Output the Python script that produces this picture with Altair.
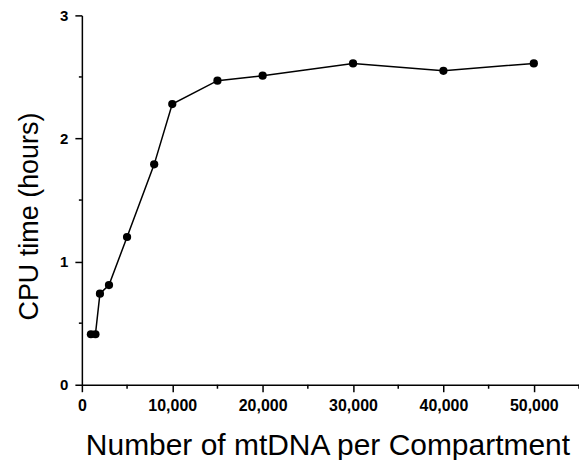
import altair as alt
import pandas as pd

mtdna = [1000, 1500, 2000, 3000, 5000, 8000, 10000, 15000, 20000, 30000, 40000, 50000]
cpu_hours = [0.41, 0.41, 0.74, 0.81, 1.20, 1.79, 2.28, 2.47, 2.51, 2.61, 2.55, 2.61]

x_major = [0, 10000, 20000, 30000, 40000, 50000]
x_minor = [5000, 15000, 25000, 35000, 45000, 55000]
y_major = [0, 1, 2, 3]
y_minor = [0.5, 1.5, 2.5]

df = pd.DataFrame({"n": mtdna, "t": cpu_hours})
dfx = pd.DataFrame({"n": x_minor})
dfy = pd.DataFrame({"t": y_minor})

FONT = "Liberation Sans"

x_axis = alt.Axis(
    values=x_major,
    labelExpr="format(datum.value, ',')",
    tickSize=7,
    labelPadding=6,
    labelFontSize=16,
    labelFontWeight="bold",
    labelFont=FONT,
    labelColor="black",
    title="Number of mtDNA per Compartment",
    titleFont=FONT,
    titleFontSize=30,
    titleFontWeight="normal",
    titleColor="black",
    titleX=246,
    titleY=70,
    titleBaseline="alphabetic",
    titleAlign="center",
    grid=False,
    domainColor="black",
    domainWidth=1.5,
    tickColor="black",
    tickWidth=1.5,
    labelFlush=False,
    labelOverlap=False,
)

y_axis = alt.Axis(
    values=y_major,
    labelExpr="format(datum.value, 'd')",
    tickSize=7,
    labelPadding=7,
    labelFontSize=15,
    labelFontWeight="bold",
    labelFont=FONT,
    labelColor="black",
    title="CPU time (hours)",
    titleFont=FONT,
    titleFontSize=27,
    titleFontWeight="normal",
    titleColor="black",
    titleAngle=-90,
    titleX=-44,
    titleY=201,
    titleBaseline="alphabetic",
    titleAlign="center",
    grid=False,
    domainColor="black",
    domainWidth=1.5,
    tickColor="black",
    tickWidth=1.5,
    labelFlush=False,
    labelOverlap=False,
)

xs = alt.Scale(domain=[0, 55000], nice=False, zero=True)
ys = alt.Scale(domain=[0, 3], nice=False)

X = alt.X("n:Q", scale=xs, axis=x_axis)
Y = alt.Y("t:Q", scale=ys, axis=y_axis)

base = alt.Chart(df).encode(x=X, y=Y)
line = base.mark_line(color="black", strokeWidth=1.5)
pts = base.mark_circle(color="black", opacity=1, size=68)

xminor = alt.Chart(dfx).mark_rule(color="black", strokeWidth=1.5).encode(
    x=X,
    y=alt.value(370),
    y2=alt.value(374),
)
yminor = alt.Chart(dfy).mark_rule(color="black", strokeWidth=1.5).encode(
    y=Y,
    x=alt.value(-3),
    x2=alt.value(0),
)

chart = (
    alt.layer(line, pts, xminor, yminor)
    .properties(
        width=498,
        height=370,
        autosize=alt.AutoSizeParams(type="none"),
        padding={"left": 74, "top": 7, "right": 0, "bottom": 75},
        background="white",
    )
    .configure_view(stroke=None)
)

chart.save("out.html", embed_options={"renderer": "svg", "actions": False})
